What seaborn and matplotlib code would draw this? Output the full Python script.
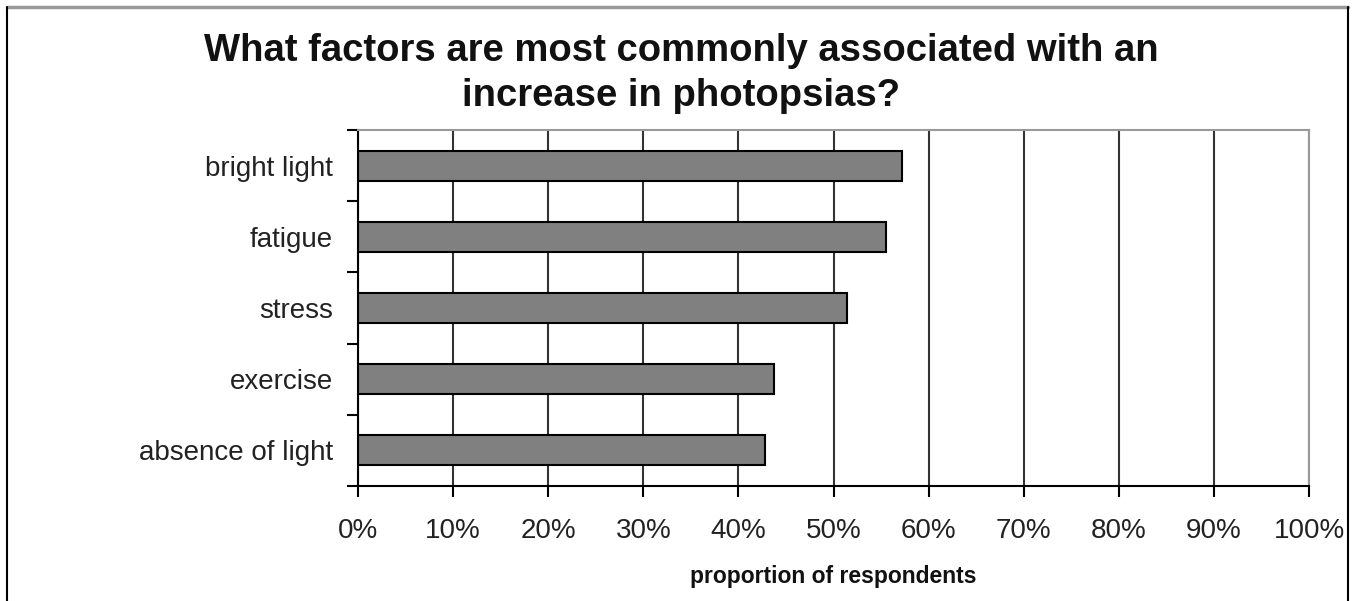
import matplotlib
matplotlib.use("Agg")
import matplotlib.pyplot as plt
import seaborn as sns
import pandas as pd
from matplotlib.ticker import PercentFormatter, FixedLocator
from matplotlib.lines import Line2D

sns.set_style("white")
plt.rcParams['font.family'] = ['Liberation Sans', 'DejaVu Sans']

# data
factors = ["bright light", "fatigue", "stress", "exercise", "absence of light"]
proportion = [57.2, 55.5, 51.4, 43.7, 42.8]

df = pd.DataFrame({"factor": factors, "proportion": proportion})

fig = plt.figure(figsize=(13.63, 6.01), dpi=100)
ax = fig.add_axes([0.2627, 0.1913, 0.6977, 0.5924])

sns.barplot(data=df, x="proportion", y="factor", orient="h", ax=ax,
            color="#808080", edgecolor="black", linewidth=1.5, width=0.42,
            saturation=1)

ax.set_xlim(0, 100)
ax.set_ylim(4.5, -0.5)
ax.set_xticks(range(0, 101, 10))
ax.xaxis.set_major_formatter(PercentFormatter(decimals=0))
ax.grid(axis="x", color="#333333", linewidth=1.5)
ax.set_axisbelow(True)

# y ticks sit between the categories
ax.yaxis.set_minor_locator(FixedLocator([i - 0.5 for i in range(len(factors) + 1)]))
ax.tick_params(axis="y", which="major", left=False, length=0, labelsize=20, pad=18,
               colors="#222222")
ax.tick_params(axis="y", which="minor", left=True, length=8, width=1.5, color="black")
ax.tick_params(axis="x", bottom=True, length=8, width=1.5, color="black", labelsize=20,
               pad=15, labelcolor="#222222")

for s in ["left", "bottom"]:
    ax.spines[s].set_color("black")
    ax.spines[s].set_linewidth(1.5)
for s in ["top", "right"]:
    ax.spines[s].set_color("#999999")
    ax.spines[s].set_linewidth(1.5)

ax.set_ylabel("")
ax.set_xlabel("proportion of respondents", fontsize=16.5, fontweight="bold",
              labelpad=15, color="#111111")

fig.suptitle("What factors are most commonly associated with an\nincrease in photopsias?",
             fontsize=27.5, fontweight="bold", y=0.945, linespacing=1.33, color="#111111")

# outer frame of the chart
fig.add_artist(Line2D([7/1363, 1348/1363], [1 - 7/601, 1 - 7/601], color="#999999", lw=2.5,
                      transform=fig.transFigure))
fig.add_artist(Line2D([7/1363, 7/1363], [0, 1 - 7/601], color="black", lw=1.5,
                      transform=fig.transFigure))
fig.add_artist(Line2D([1348/1363, 1348/1363], [0, 1 - 7/601], color="black", lw=1.5,
                      transform=fig.transFigure))

fig.savefig("out.png", dpi=100)
